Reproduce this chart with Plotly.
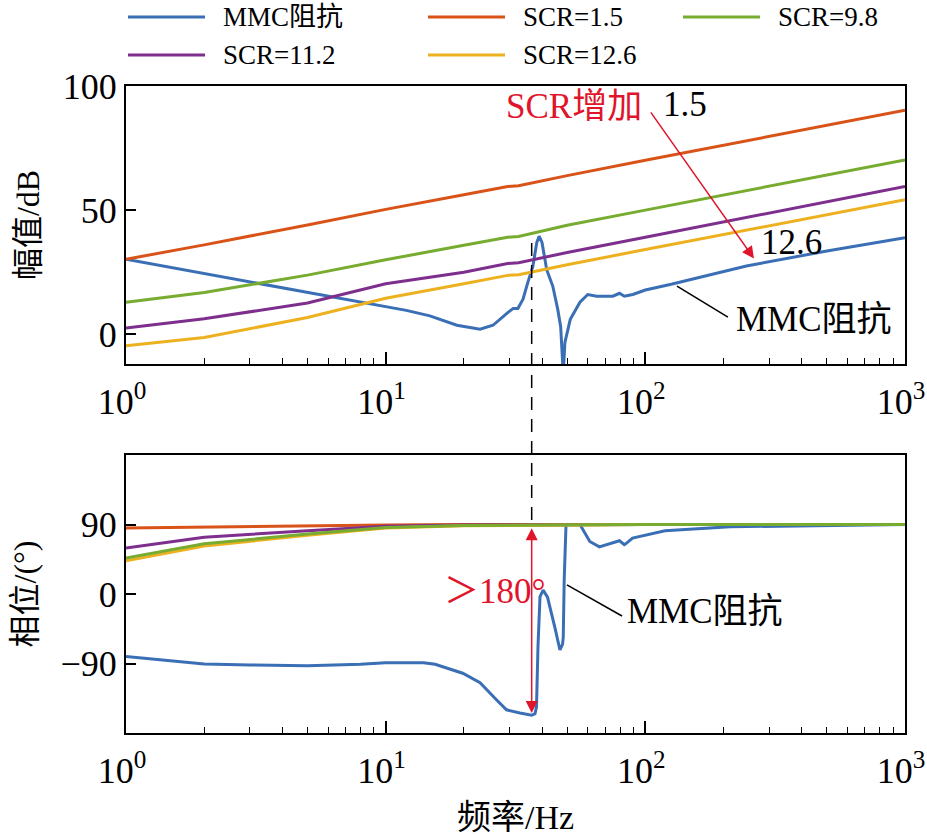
import math
import plotly.graph_objects as go

# ---------------- data ----------------
series_names = ["MMC阻抗", "SCR=1.5", "SCR=9.8", "SCR=11.2", "SCR=12.6"]
series_colors = ["#3A6FB5", "#D95319", "#77AC30", "#7E2F8E", "#EDB120"]

# magnitude (dB)
f_scr_mag = [1, 2, 5, 10, 20, 29.5, 32.5, 50, 100, 200, 500, 1000]
mag_scr15 = [30.2, 36.0, 44.0, 50.3, 56.2, 59.5, 59.8, 63.9, 70.1, 76.1, 84.1, 90.2]
mag_scr98 = [12.9, 16.8, 23.8, 30.0, 35.8, 39.1, 39.4, 43.9, 50.0, 56.0, 64.0, 70.2]
mag_scr112 = [2.5, 6.2, 12.6, 20.3, 25.0, 28.5, 28.8, 32.9, 39.1, 45.2, 53.3, 59.5]
mag_scr126 = [-4.7, -1.3, 6.7, 14.5, 20.3, 23.7, 24.0, 28.0, 34.1, 40.1, 48.1, 54.2]

f_mmc_mag = [1, 2, 5, 10, 12, 14.8, 18.8, 23.1, 25.9, 29.6, 31, 32.3, 33.8, 35.3,
             36.9, 38.2, 39.0, 40, 41.7, 44, 46, 47.2, 48.3, 49, 51.4, 56, 60, 65,
             75, 79.5, 83, 89.5, 100, 127, 245, 500, 1000]
mag_mmc = [30.2, 24.5, 17.0, 11.2, 9.6, 7.4, 3.6, 2.0, 3.6, 8.8, 10.4, 10.4, 14.1, 21,
           27.4, 37, 39.5, 37, 26, 19.4, 10, 3, -16, -3.3, 6, 12.9, 16, 15.3,
           15.3, 16.5, 15.3, 16, 17.8, 20.2, 27.5, 33.5, 38.9]

# phase (deg)
f_scr_ph = [1, 2, 5, 10, 20, 50, 100, 1000]
ph_scr15 = [85.5, 86.8, 88.2, 89.3, 89.9, 90, 90, 90]
ph_scr98 = [46.6, 65, 77.7, 86.2, 88.6, 89.7, 90, 90]
ph_scr112 = [59.6, 73.5, 82, 87.8, 89.2, 89.8, 90, 90]
ph_scr126 = [43.0, 62, 76.2, 85.6, 88.3, 89.6, 90, 90]

f_mmc_ph = [1, 2, 3, 5, 8, 10, 14, 15.5, 19.8, 23.1, 26.7, 29.2, 32.9, 36.5, 37.6,
            38.1, 38.6, 39.3, 40.4, 42, 44.8, 46.9, 48.0, 48.3, 48.7, 49.2, 49.5,
            56, 61.1, 66.5, 75, 79.5, 83, 84, 89.3, 119, 212, 506, 1000]
ph_mmc = [-81, -90.7, -92, -92.9, -91, -89, -89, -91, -102.6, -115, -137, -150, -154,
          -157, -155, -146, -68, -3.5, 5, -4, -43, -72.5, -65, -55.7, 18, 87, 90,
          90, 68, 61, 66, 69, 64, 65, 72.5, 82, 87, 89, 90]

x_tickvals = [1, 10, 100, 1000]
x_ticktext = ["10<sup>0</sup>", "10<sup>1</sup>", "10<sup>2</sup>", "10<sup>3</sup>"]
x_minor = [m * d for d in (1, 10, 100) for m in range(2, 10)]
mag_ticks = [0, 50, 100]
ph_ticks = [-90, 0, 90]

f_marker = 36.5  # resonance frequency marked by the dashed line

# ---------------- figure ----------------
W, H = 927, 836
ML, MR, MT, MB = 126, 22, 86, 103
FONT = "Liberation Serif, Times New Roman, Noto Sans CJK SC"

def pp(px, py):
    """pixel -> paper coordinates (for decorations only)"""
    return (px - ML) / (W - ML - MR), (H - MB - py) / (H - MT - MB)

fig = go.Figure()

mag_sets = [(f_mmc_mag, mag_mmc), (f_scr_mag, mag_scr15), (f_scr_mag, mag_scr98),
            (f_scr_mag, mag_scr112), (f_scr_mag, mag_scr126)]
ph_sets = [(f_mmc_ph, ph_mmc), (f_scr_ph, ph_scr15), (f_scr_ph, ph_scr98),
           (f_scr_ph, ph_scr112), (f_scr_ph, ph_scr126)]
draw_order = [0, 1, 3, 4, 2]
for i in draw_order:
    fx, fy = mag_sets[i]
    fig.add_trace(go.Scatter(x=fx, y=fy, mode="lines", name=series_names[i],
                             line=dict(color=series_colors[i], width=3),
                             xaxis="x", yaxis="y", showlegend=False))
for i in draw_order:
    fx, fy = ph_sets[i]
    fig.add_trace(go.Scatter(x=fx, y=fy, mode="lines", name=series_names[i],
                             line=dict(color=series_colors[i], width=3),
                             xaxis="x2", yaxis="y2", showlegend=False))

top_dom = [pp(0, 364)[1], 1.0]
bot_dom = [0.0, pp(0, 455)[1]]

axis_common = dict(showline=True, linecolor="black", linewidth=2, mirror=True,
                   ticks="inside", tickcolor="black", tickwidth=1.5,
                   showgrid=False, zeroline=False, automargin=False,
                   tickfont=dict(family=FONT, size=36, color="black"))
xaxis_extra = dict(type="log", range=[0, 3], domain=[0, 1],
                   tickvals=x_tickvals, ticktext=x_ticktext, ticklen=12,
                   ticklabeloverflow="allow", ticklabelstandoff=5, ticklabelshift=-4,
                   minor=dict(tickvals=x_minor, ticks="inside", ticklen=6,
                              tickcolor="black", tickwidth=1.2))

fig.update_layout(
    width=W, height=H, margin=dict(l=ML, r=MR, t=MT, b=MB, autoexpand=False),
    paper_bgcolor="white", plot_bgcolor="white",
    font=dict(family=FONT, color="black"),
    xaxis=dict(anchor="y", **xaxis_extra, **axis_common),
    yaxis=dict(range=[-12, 100], domain=top_dom, anchor="x",
               tickvals=mag_ticks, ticklen=10,
               title=dict(text="幅值/dB", font=dict(family=FONT, size=32), standoff=14),
               **axis_common),
    xaxis2=dict(anchor="y2",
                title=dict(text="频率/Hz", font=dict(family=FONT, size=34), standoff=16),
                **xaxis_extra, **axis_common),
    yaxis2=dict(range=[-180, 180], domain=bot_dom, anchor="x2",
                tickvals=ph_ticks, ticklen=10,
                title=dict(text="相位/(°)", font=dict(family=FONT, size=32), standoff=14),
                **axis_common),
)

# dashed marker line spanning both panels
fig.add_shape(type="line", xref="x", yref="paper", x0=f_marker, x1=f_marker,
              y0=pp(0, 243)[1], y1=pp(0, 521)[1],
              line=dict(color="black", width=1.5, dash="13px,9px"))

RED = "#E0142B"
AFONT = dict(family=FONT, size=35, color="black")

# SCR increase arrow (top)
fig.add_annotation(xref="x", yref="y", axref="x", ayref="y",
                   x=math.log10(262), y=30.5, ax=math.log10(104), ay=90,
                   text="", showarrow=True, arrowhead=2, arrowsize=1.6,
                   arrowwidth=1.5, arrowcolor=RED, standoff=0, startstandoff=0)
fig.add_annotation(xref="x", yref="y", x=math.log10(53.1), y=91.9, text="SCR增加",
                   showarrow=False, font=dict(family=FONT, size=35, color=RED))
fig.add_annotation(xref="x", yref="y", x=math.log10(142), y=92.7, text="1.5",
                   showarrow=False, font=AFONT)
fig.add_annotation(xref="x", yref="y", x=math.log10(364), y=37.1, text="12.6",
                   showarrow=False, font=AFONT)
fig.add_annotation(xref="x", yref="y", x=math.log10(445), y=6.0, text="MMC阻抗",
                   showarrow=False, font=AFONT)
fig.add_shape(type="line", xref="x", yref="y", x0=132.4, y0=19.4, x1=208, y1=6.9,
              line=dict(color="black", width=1.5))

# bottom panel annotations
fig.add_annotation(xref="x2", yref="y2", axref="x2", ayref="y2",
                   x=math.log10(f_marker), y=-154, ax=math.log10(f_marker), ay=87,
                   text="", showarrow=True, arrowhead=2, arrowside="end+start",
                   arrowsize=1.6, arrowwidth=1.5, arrowcolor=RED,
                   standoff=0, startstandoff=0)
fig.add_annotation(xref="x2", yref="y2", x=math.log10(26.4), y=2.6, text="＞180°",
                   showarrow=False, font=dict(family=FONT, size=35, color=RED))
fig.add_annotation(xref="x2", yref="y2", x=math.log10(169), y=-23.3, text="MMC阻抗",
                   showarrow=False, font=AFONT)
fig.add_shape(type="line", xref="x2", yref="y2", x0=49.9, y0=11.7, x1=81.3, y1=-28.5,
              line=dict(color="black", width=1.5))

# manual legend (long line samples as in the reference)
leg_pos = [(128, 17), (428, 17), (683, 17), (128, 55), (428, 55)]
for (lx, ly), name, col in zip(leg_pos, series_names, series_colors):
    x0, y0 = pp(lx, ly)
    x1, _ = pp(lx + 77, ly)
    xt, _ = pp(lx + 93, ly)
    fig.add_shape(type="line", xref="paper", yref="paper", x0=x0, x1=x1, y0=y0, y1=y0,
                  line=dict(color=col, width=3))
    fig.add_annotation(xref="paper", yref="paper", x=xt, y=y0, text=name,
                       xanchor="left", yanchor="middle", showarrow=False,
                       font=dict(family=FONT, size=27, color="black"))

fig.write_html("out.html",
               config={"displayModeBar": False},
               post_script="document.body.style.margin='0';"
                           "document.body.style.overflow='hidden';")
